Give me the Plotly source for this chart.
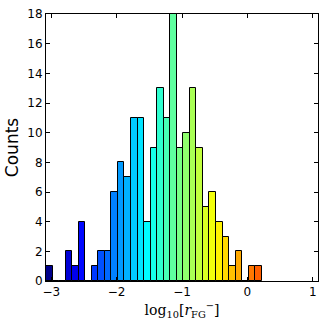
import plotly.graph_objects as go

# Histogram data (bin width 0.1)
bin_start = -3.08
bin_width = 0.1
counts = [1, 0, 0, 2, 1, 4, 0, 1, 2, 2, 6, 8, 7, 11, 11, 4, 9, 13, 11, 18,
          9, 10, 13, 9, 5, 6, 4, 3, 1, 2, 0, 1, 1]
x_range = [-3.08, 1.08]
x_ticks = [-3, -2, -1, 0, 1]
y_ticks = list(range(0, 19, 2))


def jet(v):
    """matplotlib-style jet colormap"""
    def c(x):
        return max(0.0, min(1.0, x))
    r = c(1.5 - abs(4 * v - 3))
    g = c(1.5 - abs(4 * v - 2))
    b = c(1.5 - abs(4 * v - 1))
    return f"rgb({int(r*255)},{int(g*255)},{int(b*255)})"


centers = [bin_start + bin_width * (i + 0.5) for i in range(len(counts))]
colors = [jet((x - x_range[0]) / (x_range[1] - x_range[0])) for x in centers]

fig = go.Figure()
fig.add_trace(go.Bar(
    x=centers,
    y=counts,
    width=bin_width,
    marker=dict(color=colors, line=dict(color='black', width=1)),
    showlegend=False,
))

axis_common = dict(
    showline=True, linecolor='black', linewidth=1, mirror='ticks',
    ticks='inside', ticklen=4, tickcolor='black',
    showgrid=False, zeroline=False, automargin=False,
    tickfont=dict(family='DejaVu Sans', size=12, color='black'),
)

fig.update_xaxes(range=x_range, tickvals=x_ticks,
                 ticktext=['\u22123', '\u22122', '\u22121', '0', '1'],
                 title=dict(text='log<sub>10</sub>[<i>r</i><sub>FG</sub><sup>\u2212</sup>]',
                            font=dict(family='DejaVu Serif', size=14, color='black'),
                            standoff=6),
                 **axis_common)
fig.update_yaxes(range=[0, 18], tickvals=y_ticks,
                 title=dict(text='Counts',
                            font=dict(family='DejaVu Sans', size=17, color='black'),
                            standoff=4),
                 **axis_common)

fig.update_layout(
    width=327, height=327,
    margin=dict(l=46, r=9, t=14, b=46),
    plot_bgcolor='white', paper_bgcolor='white',
    bargap=0,
)

# drop the default page margin so the 327px figure fits the window exactly
fig.write_html("out.html", config={'displayModeBar': False},
               post_script="document.body.style.margin='0';document.body.style.overflow='hidden';")
